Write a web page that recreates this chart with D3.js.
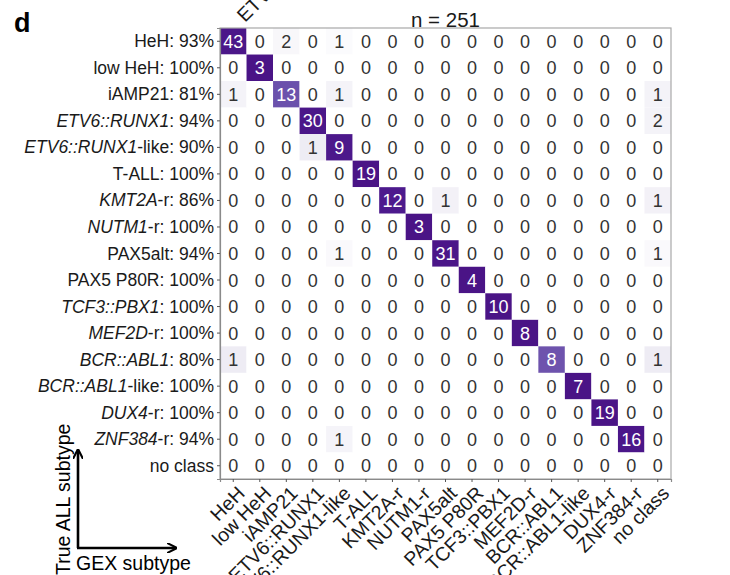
<!DOCTYPE html>
<html><head><meta charset="utf-8">
<script src="https://cdn.jsdelivr.net/npm/d3@7"></script>
<style>
body{margin:0;background:#fff;}
svg{font-family:"Liberation Sans",Arial,sans-serif;}
</style></head>
<body><svg id="c" width="730" height="575"></svg>
<script>
// Row (true subtype) labels: italic gene part + plain suffix
const rowItalic = ["", "", "", "ETV6::RUNX1", "ETV6::RUNX1", "", "KMT2A", "NUTM1", "", "", "TCF3::PBX1", "MEF2D", "BCR::ABL1", "BCR::ABL1", "DUX4", "ZNF384", ""];
const rowPlain  = ["HeH", "low HeH", "iAMP21", "", "-like", "T-ALL", "-r", "-r", "PAX5alt", "PAX5 P80R", "", "-r", "", "-like", "-r", "-r", "no class"];
// Column (GEX subtype) labels
const colLabels = ["HeH", "low HeH", "iAMP21", "ETV6::RUNX1", "ETV6::RUNX1-like", "T-ALL", "KMT2A-r", "NUTM1-r", "PAX5alt", "PAX5 P80R", "TCF3::PBX1", "MEF2D-r", "BCR::ABL1", "BCR::ABL1-like", "DUX4-r", "ZNF384-r", "no class"];
// Confusion matrix counts: rows = true subtype, columns = GEX subtype
const counts = [
  [43,0,2,0,1,0,0,0,0,0,0,0,0,0,0,0,0],
  [0,3,0,0,0,0,0,0,0,0,0,0,0,0,0,0,0],
  [1,0,13,0,1,0,0,0,0,0,0,0,0,0,0,0,1],
  [0,0,0,30,0,0,0,0,0,0,0,0,0,0,0,0,2],
  [0,0,0,1,9,0,0,0,0,0,0,0,0,0,0,0,0],
  [0,0,0,0,0,19,0,0,0,0,0,0,0,0,0,0,0],
  [0,0,0,0,0,0,12,0,1,0,0,0,0,0,0,0,1],
  [0,0,0,0,0,0,0,3,0,0,0,0,0,0,0,0,0],
  [0,0,0,0,1,0,0,0,31,0,0,0,0,0,0,0,1],
  [0,0,0,0,0,0,0,0,0,4,0,0,0,0,0,0,0],
  [0,0,0,0,0,0,0,0,0,0,10,0,0,0,0,0,0],
  [0,0,0,0,0,0,0,0,0,0,0,8,0,0,0,0,0],
  [1,0,0,0,0,0,0,0,0,0,0,0,8,0,0,0,1],
  [0,0,0,0,0,0,0,0,0,0,0,0,0,7,0,0,0],
  [0,0,0,0,0,0,0,0,0,0,0,0,0,0,19,0,0],
  [0,0,0,0,1,0,0,0,0,0,0,0,0,0,0,16,0],
  [0,0,0,0,0,0,0,0,0,0,0,0,0,0,0,0,0]
];
const panelLetter = "d";
const titleText = "n = 251";
const yTitle = "True ALL subtype";
const xTitle = "GEX subtype";
const cutLabel = "ETV6::RUNX1";

const svg = d3.select("#c");
const L = 220, T = 28, W = 451, H = 451;
const n = colLabels.length;
const idx = d3.range(n);
const x = d3.scaleBand().domain(idx).range([L, L + W]);
const y = d3.scaleBand().domain(idx).range([T, T + H]);

const rowSums = counts.map(r => d3.sum(r));
const color = d3.scaleLinear()
  .domain([0, 0.1, 0.82, 0.85, 1])
  .range(["#ffffff", "#eeecf4", "#6a4fab", "#4d1a8d", "#4a1486"])
  .clamp(true);

const cells = [];
counts.forEach((row, i) => row.forEach((v, j) => cells.push({i, j, v, f: rowSums[i] ? v / rowSums[i] : 0})));

svg.append("g").selectAll("rect").data(cells).join("rect")
  .attr("x", d => x(d.j)).attr("y", d => y(d.i))
  .attr("width", x.bandwidth()).attr("height", y.bandwidth())
  .attr("fill", d => color(d.f));

svg.append("g").selectAll("text").data(cells).join("text")
  .attr("x", d => x(d.j) + x.bandwidth() / 2)
  .attr("y", d => y(d.i) + y.bandwidth() / 2 + 6.5)
  .attr("text-anchor", "middle")
  .attr("font-size", 18)
  .attr("fill", d => d.f > 0.5 ? "#ffffff" : "#333333")
  .text(d => d.v);

// panel border
svg.append("rect").attr("x", L).attr("y", T).attr("width", W).attr("height", H)
  .attr("fill", "none").attr("stroke", "#a8a8a8").attr("stroke-width", 1.2);

// axes
const yAxis = d3.axisLeft(y).tickSize(3).tickFormat(() => "");
const gy = svg.append("g").attr("transform", `translate(${L},0)`).call(yAxis);
const xAxis = d3.axisBottom(x).tickSize(3).tickFormat(() => "");
const gx = svg.append("g").attr("transform", `translate(0,${T + H})`).call(xAxis);
[gy, gx].forEach(g => {
  g.select(".domain").attr("stroke", "#8a8a8a").attr("stroke-width", 1.2);
  g.selectAll(".tick line").attr("stroke", "#555");
});

// row labels
const rl = svg.append("g").selectAll("text").data(idx).join("text")
  .attr("x", L - 6)
  .attr("y", i => y(i) + y.bandwidth() / 2 + 6)
  .attr("text-anchor", "end")
  .attr("font-size", 17.5)
  .attr("fill", "#1a1a1a");
rl.each(function(i) {
  const t = d3.select(this);
  if (rowItalic[i]) t.append("tspan").attr("font-style", "italic").text(rowItalic[i]);
  let s = rowPlain[i];
  if (i < n - 1) s += ": " + Math.round(counts[i][i] / rowSums[i] * 100) + "%";
  t.append("tspan").text(s);
});

// column labels
svg.append("g").selectAll("text").data(idx).join("text")
  .attr("transform", j => `translate(${x(j) + x.bandwidth() / 2 + 3},${T + H + 6}) rotate(-45)`)
  .attr("text-anchor", "end")
  .attr("dy", "0.7em")
  .attr("font-size", 19.5)
  .attr("fill", "#1a1a1a")
  .text(j => colLabels[j]);

// title
svg.append("text").attr("x", L + W / 2).attr("y", 27).attr("text-anchor", "middle")
  .attr("font-size", 20.5).attr("fill", "#1a1a1a").text(titleText);

// cut-off label from panel above
svg.append("text").attr("transform", "translate(245,23) rotate(-45)")
  .attr("font-size", 19.5).attr("fill", "#1a1a1a").text(cutLabel);

// panel letter
svg.append("text").attr("x", 14).attr("y", 32).attr("font-size", 27)
  .attr("font-weight", "bold").attr("fill", "#000").text(panelLetter);

// arrows
const defs = svg.append("defs");
defs.append("marker").attr("id", "ah").attr("viewBox", "0 0 10 10")
  .attr("refX", 8).attr("refY", 5).attr("markerWidth", 4).attr("markerHeight", 4)
  .attr("orient", "auto")
  .append("path").attr("d", "M0,0 L10,5 L0,10").attr("fill", "none").attr("stroke", "#000").attr("stroke-width", 2);
svg.append("path").attr("d", "M78,548 L78,451").attr("stroke", "#000").attr("stroke-width", 2.6)
  .attr("fill", "none").attr("marker-end", "url(#ah)");
svg.append("path").attr("d", "M77,548 L175,548").attr("stroke", "#000").attr("stroke-width", 2.6)
  .attr("fill", "none").attr("marker-end", "url(#ah)");

svg.append("text").attr("transform", "translate(70,575) rotate(-90)")
  .attr("font-size", 19.5).attr("fill", "#000").text(yTitle);
svg.append("text").attr("x", 76).attr("y", 570)
  .attr("font-size", 19.5).attr("fill", "#000").text(xTitle);
</script></body></html>
